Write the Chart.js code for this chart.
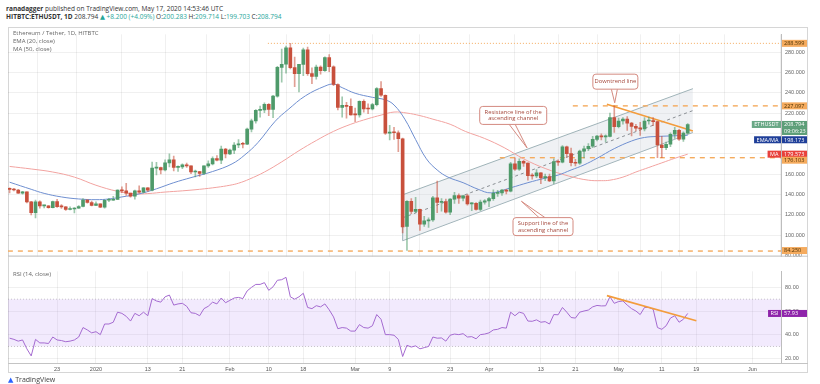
<!DOCTYPE html>
<html>
<head>
<meta charset="utf-8">
<script src="https://cdn.jsdelivr.net/npm/chart.js@4.4.1/dist/chart.umd.min.js"></script>
<style>
  body { margin: 0; background: #fff; width: 820px; height: 384px; position: relative; overflow: hidden;
         font-family: "Open Sans", "DejaVu Sans", sans-serif; }
  .t { position: absolute; white-space: nowrap; font-size: 6.5px; color: #333; line-height: 8px; }
  .v { color: #26a69a; }
  .leg { color: #666; font-size: 6px; }
  .frame { position: absolute; left: 8px; top: 27px; width: 800px; height: 346px; border: 1px solid #d6d6d6; box-sizing: border-box; }
</style>
</head>
<body>
<div class="t" style="left:6px;top:5px"><b>ranadagger</b> published on TradingView.com, May 17, 2020 14:53:46 UTC</div>
<div class="t" style="left:6px;top:13px"><b>HITBTC:ETHUSDT, 1D</b> 208.794 <span class="v">&#9650; +8.200 (+4.09%)</span> O:<span class="v">200.283</span> H:<span class="v">209.714</span> L:<span class="v">199.703</span> C:<span class="v">208.794</span></div>
<div class="frame"></div>
<div style="position:absolute;left:8px;top:27px;width:800px;height:237px"><canvas id="mainChart" width="800" height="237"></canvas></div>
<div style="position:absolute;left:8px;top:264px;width:800px;height:110px"><canvas id="rsiChart" width="800" height="110"></canvas></div>
<div class="t leg" style="left:13px;top:29px">Ethereum / Tether, 1D, HITBTC</div>
<div class="t leg" style="left:13px;top:37px">EMA (20, close)</div>
<div class="t leg" style="left:13px;top:45px">MA (50, close)</div>
<div class="t leg" style="left:13px;top:270px">RSI (14, close)</div>
<div class="t" style="left:8px;top:376px;font-size:7px;color:#444"><span style="color:#2962ff">&#9650;</span> TradingView</div>
<script>
// days counted from Jan 1 2020; first candle is Dec 12 2019
const firstDay = -20;

const openPrices = [
  145.6, 144.9, 144.3, 141.3, 142.4, 132.7, 121.9, 132.8, 128.7, 128.7, 126.9, 133.0, 128.0, 127.7, 125.1, 125.6, 126.5, 128.1, 134.4, 132.0,
  129.2, 130.8, 127.4, 134.2, 134.2, 135.1, 144.3, 143.5, 141.3, 138.2, 143.6, 142.1, 146.5, 144.2, 165.9, 166.4, 164.0, 171.0, 174.0, 166.6, 167.0, 169.0, 168.0, 162.0, 162.5, 160.7, 168.0, 170.0, 175.3, 173.7, 184.6,
  179.9, 183.5, 188.6, 189.8, 189.3, 204.2, 212.3, 222.7, 223.1, 228.6, 223.5, 236.7, 265.0, 268.0, 284.2, 264.7, 258.8, 267.9, 282.3, 258.8, 256.0, 265.3, 261.6, 274.5, 265.6, 248.1, 225.5, 227.6, 226.6,
  218.3, 218.2, 231.5, 224.2, 224.0, 228.3, 244.2, 237.5, 200.2, 201.0, 200.6, 194.7, 108.5, 133.2, 123.3, 125.2, 110.6, 113.9, 114.8, 136.6, 132.2, 132.9, 122.6, 135.4, 138.8, 136.3, 138.6, 130.6, 131.1, 125.2, 132.4,
  133.6, 135.9, 141.0, 141.5, 144.2, 143.1, 170.0, 164.7, 172.6, 170.8, 158.4, 158.1, 161.1, 156.2, 157.6, 153.3, 172.2, 171.6, 186.9, 180.1, 171.3, 170.6, 182.6, 184.9, 187.4, 194.2, 197.3, 196.6, 197.0, 215.5,
  206.6, 212.2, 214.0, 210.1, 206.9, 205.2, 204.5, 212.2, 212.4, 211.6, 188.6, 185.9, 189.3, 199.2, 203.1, 194.3, 200.283
];
const highPrices = [
  146.4, 145.9, 145.1, 143.0, 142.6, 133.1, 134.5, 133.6, 129.5, 128.9, 133.5, 135.1, 130.0, 128.0, 127.7, 127.0, 129.0, 136.0, 134.9, 133.5,
  132.8, 130.8, 134.6, 136.1, 138.1, 144.5, 147.4, 150.8, 141.4, 144.3, 148.5, 146.6, 146.7, 171.7, 171.6, 166.9, 173.9, 179.8, 177.7, 168.0, 170.0, 170.9, 168.2, 163.9, 162.6, 168.2, 172.9, 176.9, 178.3, 187.6, 185.4,
  184.5, 191.0, 194.0, 191.2, 205.2, 214.0, 223.5, 227.0, 230.0, 229.4, 237.5, 266.0, 283.0, 286.0, 288.6, 275.0, 268.0, 284.0, 285.0, 264.5, 267.3, 266.5, 275.3, 277.5, 266.5, 248.8, 236.0, 230.5, 234.0,
  225.0, 232.0, 233.0, 229.0, 229.5, 245.0, 251.0, 238.0, 208.0, 206.0, 202.5, 195.5, 134.0, 136.0, 137.0, 125.5, 118.5, 117.0, 138.0, 153.0, 136.0, 135.5, 136.0, 142.0, 140.5, 139.0, 140.0, 132.0, 132.0, 134.5, 135.0,
  137.0, 144.5, 144.0, 145.0, 145.0, 171.5, 176.0, 175.0, 173.5, 171.0, 160.5, 164.5, 161.5, 160.0, 160.0, 175.0, 174.0, 188.0, 187.5, 185.5, 174.5, 183.5, 187.5, 190.0, 197.0, 198.0, 199.5, 198.5, 220.0, 227.1,
  215.0, 215.5, 216.5, 211.0, 209.0, 211.0, 215.5, 216.0, 215.5, 212.0, 197.0, 191.5, 200.5, 206.0, 204.0, 201.5, 209.714
];
const lowPrices = [
  141.5, 143.5, 141.0, 140.3, 131.6, 119.9, 116.9, 126.4, 126.8, 126.5, 126.7, 127.2, 126.3, 124.2, 124.7, 121.8, 126.1, 127.6, 131.3, 128.6,
  128.8, 126.9, 126.5, 132.9, 134.0, 135.0, 141.8, 138.9, 137.3, 135.4, 141.3, 141.5, 142.9, 143.4, 159.1, 160.1, 163.0, 167.1, 163.2, 162.7, 165.3, 166.5, 160.3, 157.1, 157.7, 159.5, 166.5, 169.0, 173.0, 170.2, 176.0,
  179.0, 180.0, 186.0, 185.8, 188.8, 201.5, 210.0, 216.0, 220.5, 217.5, 215.5, 235.6, 250.5, 259.3, 263.5, 246.0, 240.7, 256.7, 257.0, 249.0, 253.4, 258.3, 261.0, 260.8, 246.9, 223.0, 216.0, 215.0, 218.0,
  211.5, 216.0, 221.0, 219.5, 223.0, 227.0, 236.5, 199.0, 193.5, 194.0, 182.0, 102.0, 85.0, 121.0, 122.0, 104.5, 108.5, 107.5, 113.5, 122.0, 123.5, 121.5, 120.0, 131.0, 131.0, 133.5, 129.5, 124.0, 124.5, 124.0, 130.5,
  128.0, 134.0, 138.0, 139.0, 140.5, 142.5, 163.5, 163.5, 167.5, 154.0, 155.0, 156.5, 150.5, 153.5, 152.5, 150.5, 168.5, 171.0, 176.5, 168.0, 168.0, 169.5, 176.0, 183.0, 186.0, 192.5, 193.5, 191.5, 196.5, 201.0,
  205.5, 209.0, 203.0, 197.5, 202.5, 198.0, 202.5, 209.0, 207.5, 176.1, 176.1, 184.0, 187.0, 195.0, 193.0, 192.0, 199.703
];
const closePrices = [
  144.9, 144.3, 141.3, 142.4, 132.7, 121.9, 132.8, 128.7, 128.7, 126.9, 133.0, 128.0, 127.7, 125.1, 125.6, 126.5, 128.1, 134.4, 132.0, 129.2,
  130.8, 127.4, 134.2, 134.2, 135.1, 144.3, 143.5, 141.3, 138.2, 143.6, 142.1, 146.5, 144.2, 165.9, 166.4, 164.0, 171.0, 174.0, 166.6, 167.0, 169.0, 168.0, 162.0, 162.5, 160.7, 168.0, 170.0, 175.3, 173.7, 184.6, 179.9,
  183.5, 188.6, 189.8, 189.3, 204.2, 212.3, 222.7, 223.1, 228.6, 223.5, 236.7, 265.0, 268.0, 284.2, 264.7, 258.8, 267.9, 282.3, 258.8, 256.0, 265.3, 261.6, 274.5, 265.6, 248.1, 225.5, 227.6, 226.6, 218.3,
  218.2, 231.5, 224.2, 224.0, 228.3, 244.2, 237.5, 200.2, 201.0, 200.6, 194.7, 108.0, 133.2, 123.3, 125.2, 110.6, 113.9, 114.8, 136.6, 132.2, 132.9, 122.6, 135.4, 138.8, 136.3, 138.6, 130.6, 131.1, 125.2, 132.4, 133.6,
  135.9, 141.0, 141.5, 144.2, 143.1, 170.0, 164.7, 172.6, 170.8, 158.4, 158.1, 161.1, 156.2, 157.6, 153.3, 172.2, 171.6, 186.9, 180.1, 171.3, 170.6, 182.6, 184.9, 187.4, 194.2, 197.3, 196.6, 197.0, 215.5, 206.6,
  212.2, 214.0, 210.1, 206.9, 205.2, 204.5, 212.2, 212.4, 211.6, 188.6, 185.9, 189.3, 199.2, 203.1, 194.3, 200.3, 208.794
];

// EMA 20 and MA 50 (day, value)
const emaDays = [-20, -15, -12, -8, -4, 0, 3, 6, 10, 14, 18, 22, 27, 31.5, 34.5, 37.5, 41.5, 44.5, 48.5, 53, 55, 57, 60, 64, 67, 69, 71.5, 74, 76.5, 79, 81.5, 85, 88.5, 91.5, 96, 100, 104, 107, 110, 113, 116, 120, 124, 127, 130, 133, 137];
const emaValues = [152, 145, 141, 137.5, 135.5, 134.8, 135.5, 137.5, 140.5, 145.5, 151.5, 156.5, 162.5, 170, 179, 191, 212, 223.5, 237, 246.5, 248.5, 245, 239.5, 235.5, 233, 228, 214, 194, 175, 164, 157, 151.5, 145, 141.5, 146.5, 151.5, 156, 159, 164, 169, 175.5, 185, 192.5, 196, 197, 197.5, 198.173];
const maDays = [-20, -15, -10, -5, 0, 5, 9, 12, 16, 20, 24, 28, 31, 33, 35.5, 39, 43, 47, 51, 55, 59, 63, 66, 69, 72, 75, 78, 82, 85.5, 90, 94.5, 99, 104, 109.5, 114, 117, 119, 122, 125, 128, 131, 134, 137];
const maValues = [167.5, 165, 162, 157, 149, 143, 140.5, 140.8, 142.3, 143.5, 145, 147, 149, 151, 155, 162, 172, 183, 193, 202, 209, 214.5, 218, 221, 220, 217.5, 214, 209, 202, 195, 186, 175, 165.5, 158, 154, 153.5, 154, 157, 162, 166.5, 171, 175.5, 179.573];

const rsiValues = [
  37, 36, 34.5, 35.5, 28, 22, 36, 33, 33, 32.5, 38, 35.5, 35, 34, 34.5, 35.5, 38, 46, 44, 41.5,
  42.5, 40, 49, 49, 50.5, 59, 58, 55.5, 51.5, 58, 56, 59, 56, 70.5, 68.5, 67.5, 72, 73.5, 65, 66, 66.5, 64, 58.5, 58, 56, 62, 64, 67.5, 66, 71, 67,
  69, 71, 71.5, 70.5, 77, 80, 82.5, 82.5, 84, 77.5, 80.5, 86, 86.5, 88.5, 72, 70, 72, 75, 63, 62, 64.5, 63.5, 66, 61, 55, 45, 46, 45.5, 43,
  43, 48.5, 46, 45.5, 47.5, 57, 53, 40, 40, 39.5, 36, 21.5, 31, 29.5, 30.5, 28, 29, 30, 38, 37, 37.2, 34.5, 39.5, 40.5, 40, 40.8, 38, 38.3, 36.5, 40, 40.5,
  41.5, 44, 44.5, 46, 45.5, 59, 56, 59, 58, 51.5, 51.3, 52.5, 50.5, 51, 49, 57, 56.8, 63, 59, 54.5, 54, 59, 60, 60.8, 63.5, 64.7, 64.3, 64.4, 72, 66.5,
  68, 68.5, 65, 62, 60, 57, 63, 63, 61.5, 46, 44.5, 47.5, 54, 56, 50.5, 53, 57.93
];

// drawn lines on the chart (day, price)
const channelStart = 71, channelEnd = 138.2;
const channelLower = [94.4, 200.9];
const channelUpper = [139.6, 244];
const downtrendDays = [118.3, 138.2], downtrendPrices = [228.6, 202.4];
const rsiTrendDays = [118.3, 139], rsiTrendValues = [73, 51.8];
const levelPrices = [288.599, 227.097, 176.103, 84.25];
const levelStartDays = [39.8, 110.4, 93.5, -20.4];

const tickDays = [-9, 0, 12, 20, 31, 40, 48, 60, 68, 82, 91, 103, 111, 121, 131, 139, 152];
const tickLabels = ['23', '2020', '13', '21', 'Feb', '10', '18', 'Mar', '9', '23', 'Apr', '13', '21', 'May', '11', '19', 'Jun'];
const priceTicks = [80, 100, 120, 140, 160, 180, 200, 220, 240, 260, 280];
const rsiTicks = [20, 40, 60, 80];

const xMin = -20.37, xMax = 158.6;
const upColor = '#4e9a6a', downColor = '#c8503c';
const orange = '#f5ab5e';

const days = openPrices.map((_, i) => firstDay + i);
const isUp = openPrices.map((o, i) => closePrices[i] >= o);

function line(points, color, extra) {
  return Object.assign({
    type: 'line', data: points, borderColor: color, borderWidth: 1,
    pointRadius: 0, fill: false, tension: 0
  }, extra || {});
}

function xScale(showLabels) {
  return {
    type: 'linear', min: xMin, max: xMax, offset: false,
    grid: { color: 'rgba(0,0,0,0.06)', drawTicks: false },
    border: { display: false },
    afterBuildTicks: (axis) => { axis.ticks = tickDays.map(v => ({ value: v })); },
    afterFit: (axis) => { axis.height = showLabels ? 11 : 0; },
    ticks: {
      display: showLabels, autoSkip: false, maxRotation: 0, padding: 3,
      color: '#555', font: { size: 5.5 },
      callback: (v) => tickLabels[tickDays.indexOf(v)]
    }
  };
}

function drawTag(ctx, area, y, text, bg, fg, leftText, leftBg) {
  const h = 7;
  ctx.save();
  ctx.font = '5.5px "Open Sans", sans-serif';
  ctx.textBaseline = 'middle';
  ctx.textAlign = 'left';
  ctx.fillStyle = bg;
  ctx.fillRect(area.right + 1, y - h / 2, 25, h);
  ctx.fillStyle = fg;
  ctx.fillText(text, area.right + 3, y + 0.3);
  if (leftText) {
    const w = ctx.measureText(leftText).width + 5;
    ctx.fillStyle = leftBg;
    ctx.fillRect(area.right - w, y - h / 2, w, h);
    ctx.fillStyle = '#fff';
    ctx.fillText(leftText, area.right - w + 2.5, y + 0.3);
  }
  ctx.restore();
}

const callouts = [
  { lines: ['Downtrend line'], cx: 120.25, cy: 250.9, w: 45, h: 15, tx: 120.1, ty: 230.1, side: 'bottom' },
  { lines: ['Resistance line of the', 'ascending channel'], cx: 96.6, cy: 217.7, w: 67, h: 18, tx: 99.8, ty: 185.8, side: 'bottom' },
  { lines: ['Support line of the', 'ascending channel'], cx: 103.5, cy: 108.3, w: 60, h: 18, tx: 98.5, ty: 133.2, side: 'top' }
];

const mainOverlay = {
  id: 'mainOverlay',
  afterDatasetsDraw(chart) {
    const ctx = chart.ctx, xs = chart.scales.x, ys = chart.scales.y;
    callouts.forEach(c => {
      const cx = xs.getPixelForValue(c.cx), cy = ys.getPixelForValue(c.cy);
      const tx = xs.getPixelForValue(c.tx), ty = ys.getPixelForValue(c.ty);
      const by = c.side === 'bottom' ? cy + c.h / 2 : cy - c.h / 2;
      ctx.save();
      ctx.strokeStyle = '#d48a80';
      ctx.fillStyle = '#fff';
      ctx.lineWidth = 1;
      ctx.beginPath();
      ctx.moveTo(cx - 4, by);
      ctx.lineTo(tx, ty);
      ctx.lineTo(cx + 2, by);
      ctx.fill();
      ctx.stroke();
      ctx.beginPath();
      ctx.roundRect(cx - c.w / 2, cy - c.h / 2, c.w, c.h, 3);
      ctx.fill();
      ctx.stroke();
      ctx.fillStyle = '#a5483c';
      ctx.font = '5.8px "Open Sans", sans-serif';
      ctx.textAlign = 'center';
      ctx.textBaseline = 'middle';
      const n = c.lines.length;
      c.lines.forEach((t, i) => ctx.fillText(t, cx, cy + (i - (n - 1) / 2) * 6.5));
      ctx.restore();
    });
  },
  afterDraw(chart) {
    const ctx = chart.ctx, a = chart.chartArea, ys = chart.scales.y;
    ctx.save();
    ctx.strokeStyle = '#c4c4c4';
    ctx.lineWidth = 1;
    ctx.beginPath();
    ctx.moveTo(0, a.bottom - 0.5);
    ctx.lineTo(chart.width, a.bottom - 0.5);
    ctx.stroke();
    ctx.restore();
    const p = v => ys.getPixelForValue(v);
    drawTag(ctx, a, p(288.599), '288.599', orange, '#4a3000');
    drawTag(ctx, a, p(227.097), '227.097', orange, '#4a3000');
    drawTag(ctx, a, p(208.794), '208.794', '#5d9e78', '#fff', 'ETHUSDT', '#6aa886');
    drawTag(ctx, a, p(208.794) + 7, '09:06:23', '#5d9e78', '#fff');
    drawTag(ctx, a, p(198.173) + 4.5, '198.173', '#1f3f99', '#fff', 'EMA/MA', '#1f3f99');
    drawTag(ctx, a, p(179.573), '179.573', '#e8413c', '#fff', 'MA', '#e8413c');
    drawTag(ctx, a, p(176.103) + 2.5, '176.103', orange, '#4a3000');
    drawTag(ctx, a, p(84.25) - 0.5, '84.250', orange, '#4a3000');
  }
};

new Chart(document.getElementById('mainChart'), {
  type: 'bar',
  data: {
    datasets: [
      {
        label: 'bodies', order: 0, grouped: false, barThickness: 3, minBarLength: 1,
        data: days.map((d, i) => ({ x: d, y: [openPrices[i], closePrices[i]] })),
        backgroundColor: isUp.map(u => u ? upColor : downColor)
      },
      {
        label: 'wicks', order: 1, grouped: false, barThickness: 1,
        data: days.map((d, i) => ({ x: d, y: [lowPrices[i], highPrices[i]] })),
        backgroundColor: isUp.map(u => u ? 'rgba(78,154,106,0.55)' : 'rgba(200,80,60,0.55)')
      },
      line([{ x: downtrendDays[0], y: downtrendPrices[0] }, { x: downtrendDays[1], y: downtrendPrices[1] }], '#f39c3c', { order: 2, borderWidth: 1.6 }),
      line(emaDays.map((d, i) => ({ x: d, y: emaValues[i] })), '#6f8fd0', { order: 3, tension: 0.4 }),
      line(maDays.map((d, i) => ({ x: d, y: maValues[i] })), '#f2a3a0', { order: 4, tension: 0.4 }),
      line([{ x: levelStartDays[0], y: levelPrices[0] }, { x: xMax, y: levelPrices[0] }], orange, { order: 5, borderDash: [1, 2] }),
      line([{ x: levelStartDays[1], y: levelPrices[1] }, { x: xMax, y: levelPrices[1] }], orange, { order: 5, borderDash: [5, 5], borderWidth: 1.4 }),
      line([{ x: levelStartDays[2], y: levelPrices[2] }, { x: xMax, y: levelPrices[2] }], orange, { order: 5, borderDash: [5, 5], borderWidth: 1.4 }),
      line([{ x: levelStartDays[3], y: levelPrices[3] }, { x: xMax, y: levelPrices[3] }], orange, { order: 5, borderDash: [5, 5], borderWidth: 1.4 }),
      line([{ x: channelStart, y: channelLower[0] + (channelUpper[0] - channelLower[0]) / 2 }, { x: channelEnd, y: channelLower[1] + (channelUpper[1] - channelLower[1]) / 2 }], '#8a8f94', { order: 6, borderDash: [3, 3] }),
      line([{ x: channelStart, y: channelLower[0] }, { x: channelStart, y: channelUpper[0] }], '#9fb3b8', { order: 6 }),
      line([{ x: channelStart, y: channelLower[0] }, { x: channelEnd, y: channelLower[1] }], '#9fb3b8', { order: 8 }),
      line([{ x: channelStart, y: channelUpper[0] }, { x: channelEnd, y: channelUpper[1] }], '#9fb3b8', { order: 7, fill: '-1', backgroundColor: 'rgba(190,200,210,0.25)' })
    ]
  },
  options: {
    responsive: false, animation: false, devicePixelRatio: 1,
    layout: { padding: 0 },
    plugins: { legend: { display: false }, tooltip: { enabled: false } },
    scales: {
      x: xScale(false),
      y: {
        position: 'right', min: 78.7, max: 297.5,
        afterBuildTicks: (axis) => { axis.ticks = priceTicks.map(v => ({ value: v })); },
        afterFit: (axis) => { axis.width = 27; },
        grid: { color: 'rgba(0,0,0,0.06)', drawTicks: false },
        border: { color: '#bdbdbd' },
        ticks: { color: '#666', font: { size: 5.5 }, padding: 4, callback: v => v.toFixed(3) }
      }
    }
  },
  plugins: [mainOverlay]
});

const rsiOverlay = {
  id: 'rsiOverlay',
  beforeDatasetsDraw(chart) {
    const ctx = chart.ctx, a = chart.chartArea, ys = chart.scales.y;
    const y70 = ys.getPixelForValue(70), y30 = ys.getPixelForValue(30);
    ctx.save();
    ctx.fillStyle = 'rgba(190,150,245,0.2)';
    ctx.fillRect(a.left, y70, a.right - a.left, y30 - y70);
    ctx.strokeStyle = 'rgba(150,150,150,0.5)';
    ctx.setLineDash([1, 2]);
    ctx.beginPath();
    ctx.moveTo(a.left, y70); ctx.lineTo(a.right, y70);
    ctx.moveTo(a.left, y30); ctx.lineTo(a.right, y30);
    ctx.stroke();
    ctx.restore();
  },
  afterDraw(chart) {
    const ctx = chart.ctx, a = chart.chartArea, ys = chart.scales.y;
    ctx.save();
    ctx.strokeStyle = '#c4c4c4';
    ctx.beginPath();
    ctx.moveTo(0, a.bottom + 0.5);
    ctx.lineTo(chart.width, a.bottom + 0.5);
    ctx.stroke();
    ctx.restore();
    drawTag(ctx, a, ys.getPixelForValue(57.93), '57.93', '#8e24aa', '#fff', 'RSI', '#8e24aa');
  }
};

new Chart(document.getElementById('rsiChart'), {
  type: 'line',
  data: {
    datasets: [
      line([{ x: rsiTrendDays[0], y: rsiTrendValues[0] }, { x: rsiTrendDays[1], y: rsiTrendValues[1] }], '#f39c3c', { borderWidth: 1.6 }),
      line(days.map((d, i) => ({ x: d, y: rsiValues[i] })), '#a46ad0')
    ]
  },
  options: {
    responsive: false, animation: false, devicePixelRatio: 1,
    layout: { padding: { top: 2 } },
    plugins: { legend: { display: false }, tooltip: { enabled: false } },
    scales: {
      x: xScale(true),
      y: {
        position: 'right', min: 16, max: 93.6,
        afterBuildTicks: (axis) => { axis.ticks = rsiTicks.map(v => ({ value: v })); },
        afterFit: (axis) => { axis.width = 27; },
        grid: { color: 'rgba(0,0,0,0.06)', drawTicks: false },
        border: { color: '#bdbdbd' },
        ticks: { color: '#666', font: { size: 5.5 }, padding: 4, callback: v => v.toFixed(2) }
      }
    }
  },
  plugins: [rsiOverlay]
});
</script>
</body>
</html>
